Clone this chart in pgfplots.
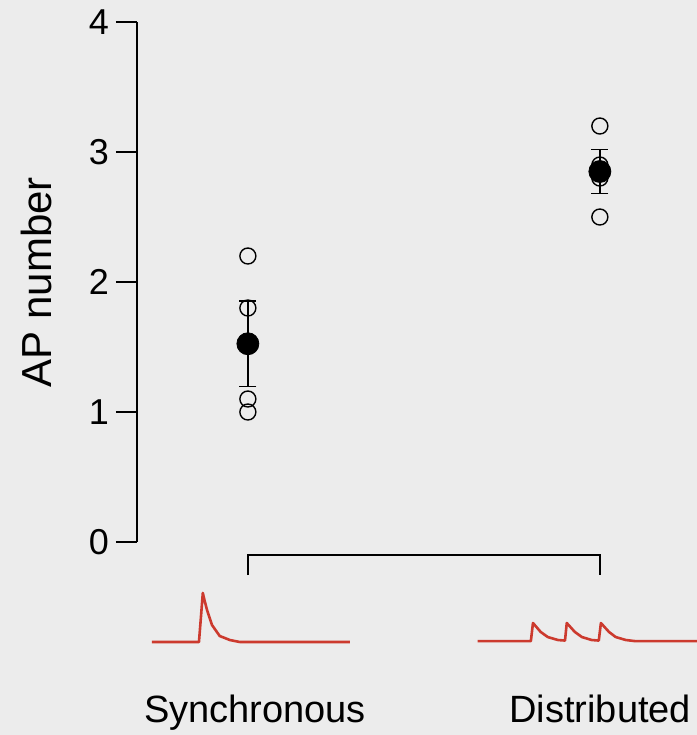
\documentclass[border=0pt]{standalone}
\usepackage{pgfplots}
\pgfplotsset{compat=1.18}
\usepackage{fontspec}
\setmainfont{Liberation Sans}
\definecolor{paper}{RGB}{236,236,236}
\definecolor{trace}{RGB}{204,58,46}
\begin{document}
\begin{tikzpicture}
\fill[paper] (0,0) rectangle (348.5pt,-367.5pt);
\useasboundingbox (0,0) rectangle (348.5pt,-367.5pt);
\begin{axis}[
  at={(68.5pt,-271pt)}, anchor=south west,
  scale only axis, width=280pt, height=260pt,
  xmin=0.685, xmax=2.276, ymin=0, ymax=4,
  clip=false,
  axis x line=none,
  axis y line*=left,
  axis line style={line width=1.1pt, black},
  ytick={0,1,2,3,4},
  tick align=outside,
  major tick length=10.5pt,
  tick style={line width=1pt, black},
  /pgf/number format/assume math mode=true,
  yticklabel style={font=\fontsize{18}{18}\selectfont},
  ylabel={AP number},
  every axis y label/.style={at={(axis description cs:-0.18,0.5)}, rotate=90, anchor=center, font=\fontsize{21}{21}\selectfont},
]
% individual cells
\addplot[only marks, mark=o, mark size=4pt, mark options={line width=0.7pt, black}]
  coordinates {(1,2.2)(1,1.8)(1,1.1)(1,1.0)(2,3.2)(2,2.9)(2,2.8)(2,2.5)};
% mean +- SEM
\addplot[only marks, mark=*, mark size=5.5pt, black,
  error bars/.cd, y dir=both, y explicit,
  error bar style={line width=0.7pt, black},
  error mark options={rotate=90, mark size=4.25pt, line width=0.7pt, black}]
  coordinates {(1,1.525) +- (0,0.33) (2,2.85) +- (0,0.17)};
% bracket
\addplot[black, line width=1.1pt] coordinates {(1,-0.254)(1,-0.1)(2,-0.1)(2,-0.254)};
% synchronous trace
\addplot[trace, line width=1.3pt, line join=round] coordinates {
(0.727,-0.769)(0.861,-0.769)(0.866,-0.60)(0.872,-0.392)(0.877,-0.45)(0.884,-0.523)
(0.898,-0.638)(0.920,-0.723)(0.949,-0.754)(0.977,-0.769)(1.290,-0.769)};
% distributed trace
\addplot[trace, line width=1.3pt, line join=round] coordinates {
(1.653,-0.762)(1.804,-0.762)(1.810,-0.623)(1.832,-0.692)(1.852,-0.731)(1.881,-0.754)(1.901,-0.758)
(1.906,-0.623)(1.929,-0.692)(1.949,-0.731)(1.977,-0.754)(1.997,-0.758)
(2.003,-0.623)(2.026,-0.692)(2.045,-0.731)(2.074,-0.754)(2.099,-0.762)(2.276,-0.762)};
\node[anchor=base, font=\fontsize{19}{19}\selectfont] at (axis cs:1.020,-1.392) {Synchronous};
\node[anchor=base, font=\fontsize{19}{19}\selectfont] at (axis cs:2.001,-1.392) {Distributed};
\end{axis}
\end{tikzpicture}
\end{document}
